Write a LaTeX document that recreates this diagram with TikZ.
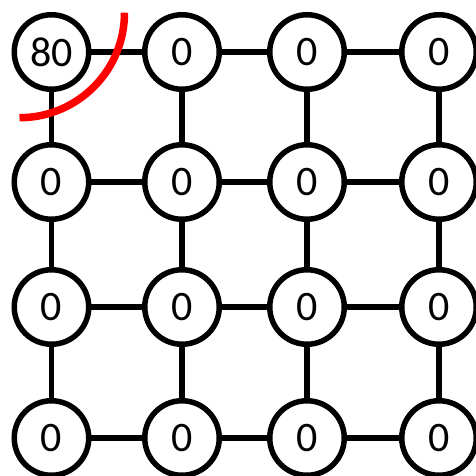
\documentclass[tikz,border=0pt]{standalone}
\usepackage{fontspec}
\setmainfont{Carlito}
\begin{document}
\begin{tikzpicture}[x=1pt,y=-1pt,
  cell/.style={circle,draw=black,line width=5.5pt,minimum size=74.5pt,inner sep=0pt,fill=white,font=\fontsize{42}{50}\selectfont},
  edge/.style={line width=5.5pt,black},
  cut/.style={line width=7.5pt,red}]
\useasboundingbox (0,0) rectangle (475,476);
\def\xa{51.5}\def\xb{182}\def\xc{307}\def\xd{439}
\def\ya{52}\def\yb{182}\def\yc{307}\def\yd{438}
\foreach \r/\y in {0/\ya,1/\yb,2/\yc,3/\yd}{
  \foreach \c/\x in {0/\xa,1/\xb,2/\xc,3/\xd}{
    \coordinate (p\r\c) at (\x,\y);
  }
}
% edges first (drawn behind nodes)
\foreach \r in {0,1,2,3}{
  \draw[edge] (p\r0) -- (p\r1) -- (p\r2) -- (p\r3);
}
\foreach \c in {0,1,2,3}{
  \draw[edge] (p0\c) -- (p1\c) -- (p2\c) -- (p3\c);
}
\node[cell] (n00) at (p00) {80};
\foreach \r in {0,1,2,3}{
  \foreach \c in {0,1,2,3}{
    \ifnum\r\c=0\else
      \node[cell] (n\r\c) at (p\r\c) {0};
    \fi
  }
}
\coordinate (arcstart) at (124.5,12.7);
\draw[cut] (arcstart) arc[start angle=0,end angle=90,radius=105];
\end{tikzpicture}
\end{document}
